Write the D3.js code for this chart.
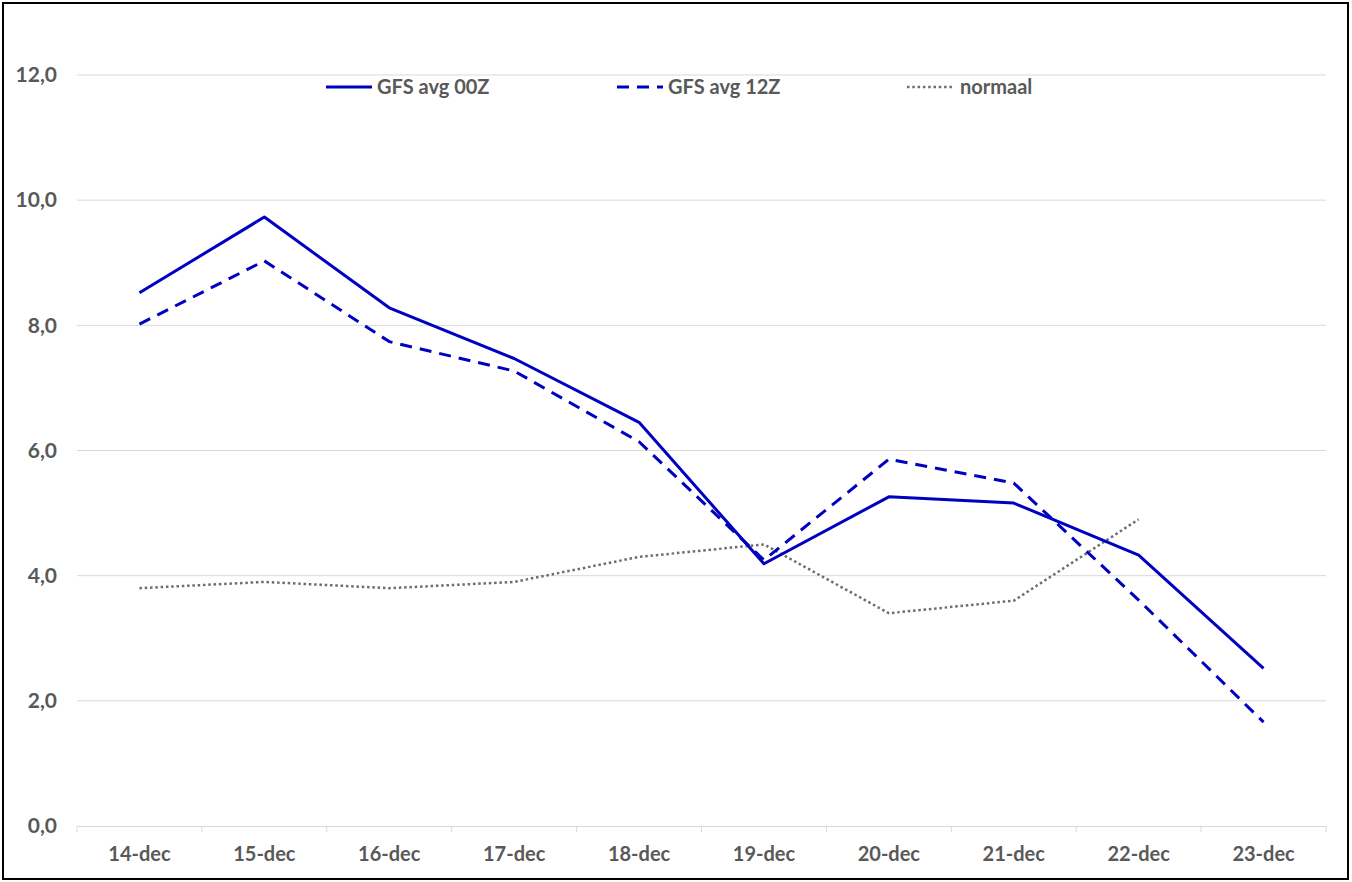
<!DOCTYPE html>
<html><head><meta charset="utf-8">
<script src="https://cdn.jsdelivr.net/npm/d3@7"></script>
<style>body{margin:0;background:#fff}svg{display:block}text{font-family:Lato,"Open Sans",sans-serif;font-weight:bold;fill:#595959}</style>
</head><body>
<svg id="c" width="1352" height="882"></svg>
<script>
const categories = ["14-dec","15-dec","16-dec","17-dec","18-dec","19-dec","20-dec","21-dec","22-dec","23-dec"];
const gfs00 = [8.52, 9.73, 8.28, 7.47, 6.45, 4.19, 5.26, 5.16, 4.33, 2.52];
const gfs12 = [8.02, 9.03, 7.74, 7.27, 6.14, 4.25, 5.86, 5.48, 3.61, 1.66];
const normaal = [3.8, 3.9, 3.8, 3.9, 4.3, 4.5, 3.4, 3.6, 4.9, null];
const yTicks = [0,2,4,6,8,10,12];
const seriesNames = ["GFS avg 00Z","GFS avg 12Z","normaal"];

const svg = d3.select("#c");
svg.append("rect").attr("x",3).attr("y",3).attr("width",1345).attr("height",876)
  .attr("fill","#fff").attr("stroke","#000").attr("stroke-width",2);

const L=77, R=1326, T=75, B=826;
const x = d3.scaleBand().domain(categories).range([L,R]);
const y = d3.scaleLinear().domain([0,12]).range([B,T]);

svg.append("g").selectAll("line").data(yTicks.slice(1)).join("line")
  .attr("x1",L).attr("x2",R).attr("y1",d=>y(d)).attr("y2",d=>y(d))
  .attr("stroke","#d9d9d9").attr("stroke-width",1);

const ya = svg.append("g").attr("transform",`translate(${L},0)`)
  .call(d3.axisLeft(y).tickValues(yTicks).tickSize(0).tickPadding(20)
    .tickFormat(d=>d3.format(".1f")(d).replace(".",",")));
ya.select(".domain").remove();
ya.selectAll("text").style("font-size","21px").attr("fill","#595959").style("font-family","Lato,sans-serif").style("font-weight","bold");

const xa = svg.append("g").attr("transform",`translate(0,${B})`)
  .call(d3.axisBottom(x).tickSize(0).tickPadding(21));
xa.select(".domain").attr("stroke","#d9d9d9");
xa.selectAll("text").style("font-size","20px").attr("fill","#595959").style("font-family","Lato,sans-serif").style("font-weight","bold");
const bounds = categories.map(c=>x(c)).concat([x(categories[categories.length-1])+x.bandwidth()]);
svg.append("g").selectAll("line").data(bounds).join("line")
  .attr("x1",d=>d).attr("x2",d=>d).attr("y1",B).attr("y2",B+6)
  .attr("stroke","#d9d9d9");

const cx = c => x(c)+x.bandwidth()/2;
const line = d3.line().defined(d=>d.v!=null).x(d=>cx(d.c)).y(d=>y(d.v));
const mk = arr => categories.map((c,i)=>({c, v:arr[i]}));

const styles = [
  {data:gfs00, stroke:"#0000C0", w:3, dash:null},
  {data:gfs12, stroke:"#0000C0", w:3, dash:"12,8"},
  {data:normaal, stroke:"#6d6d6d", w:2.5, dash:"2.5,2.8"}
];
[2,1,0].forEach(i=>{
  const s=styles[i];
  svg.append("path").datum(mk(s.data)).attr("d",line)
    .attr("fill","none").attr("stroke",s.stroke).attr("stroke-width",s.w)
    .attr("stroke-dasharray",s.dash).attr("stroke-linejoin","round");
});

const legX = [326, 617, 907];
const lg = svg.append("g");
seriesNames.forEach((n,i)=>{
  const s=styles[i];
  lg.append("line").attr("x1",legX[i]).attr("x2",legX[i]+46).attr("y1",87).attr("y2",87)
    .attr("stroke",s.stroke).attr("stroke-width",s.w).attr("stroke-dasharray",s.dash);
  lg.append("text").attr("x",legX[i]+51+(i==2?2:0)).attr("y",87).attr("dy","0.35em")
    .style("font-size","20px").text(n);
});
</script>
</body></html>
